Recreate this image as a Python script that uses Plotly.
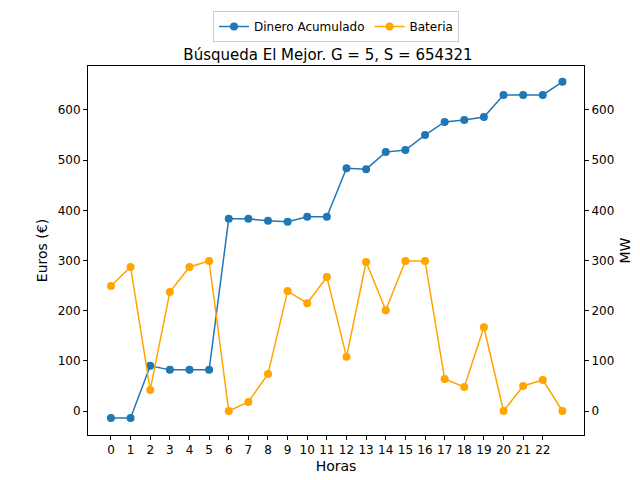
import plotly.graph_objects as go

horas = list(range(24))
dinero = [-14, -14, 90, 82, 82, 82, 383, 383, 379, 377, 387, 387, 484, 482,
          516, 520, 550, 576, 580, 586, 630, 630, 630, 656]
bateria = [249, 287, 42, 237, 287, 299, 0, 18, 74, 239, 215, 267, 108, 297,
           201, 299, 299, 64, 48, 167, 0, 50, 62, 0]
ticks = list(range(23))

fig = go.Figure()
fig.add_trace(go.Scatter(x=horas, y=dinero, mode='lines+markers', name='Dinero Acumulado',
                         line=dict(color='#1f77b4', width=1.5), marker=dict(size=8)))
fig.add_trace(go.Scatter(x=horas, y=bateria, mode='lines+markers', name='Bateria', yaxis='y2',
                         line=dict(color='orange', width=1.5), marker=dict(size=8)))

axis_style = dict(showgrid=False, zeroline=False, showline=True, linecolor='black', mirror=True,
                  ticks='outside', tickcolor='black', ticklen=4, automargin=False)
rng = [-47.8, 687.6]
fig.update_layout(
    width=640, height=480, plot_bgcolor='white', paper_bgcolor='white',
    font=dict(family='DejaVu Sans', size=12, color='black'),
    margin=dict(l=80, r=64, t=58, b=53, autoexpand=False),
    title=dict(text='Búsqueda El Mejor. G = 5, S = 654321', x=0.5, xanchor='center',
               y=1, yref='paper', yanchor='bottom', pad=dict(b=6), font=dict(size=15)),
    legend=dict(orientation='h', x=0.5, xanchor='center', y=1.149, yanchor='top',
                bordercolor='#cccccc', borderwidth=1, font=dict(size=12)),
    xaxis=dict(axis_style, title=dict(text='Horas', standoff=4), range=[-1.17, 24.1],
               tickvals=ticks, tickfont=dict(size=12)),
    yaxis=dict(axis_style, title=dict(text='Euros (€)', standoff=6), range=rng,
               tickvals=[0, 100, 200, 300, 400, 500, 600]),
    yaxis2=dict(axis_style, title=dict(text='MW', standoff=6), range=rng, overlaying='y', side='right',
                tickvals=[0, 100, 200, 300, 400, 500, 600]),
)
fig.write_html("out.html")
